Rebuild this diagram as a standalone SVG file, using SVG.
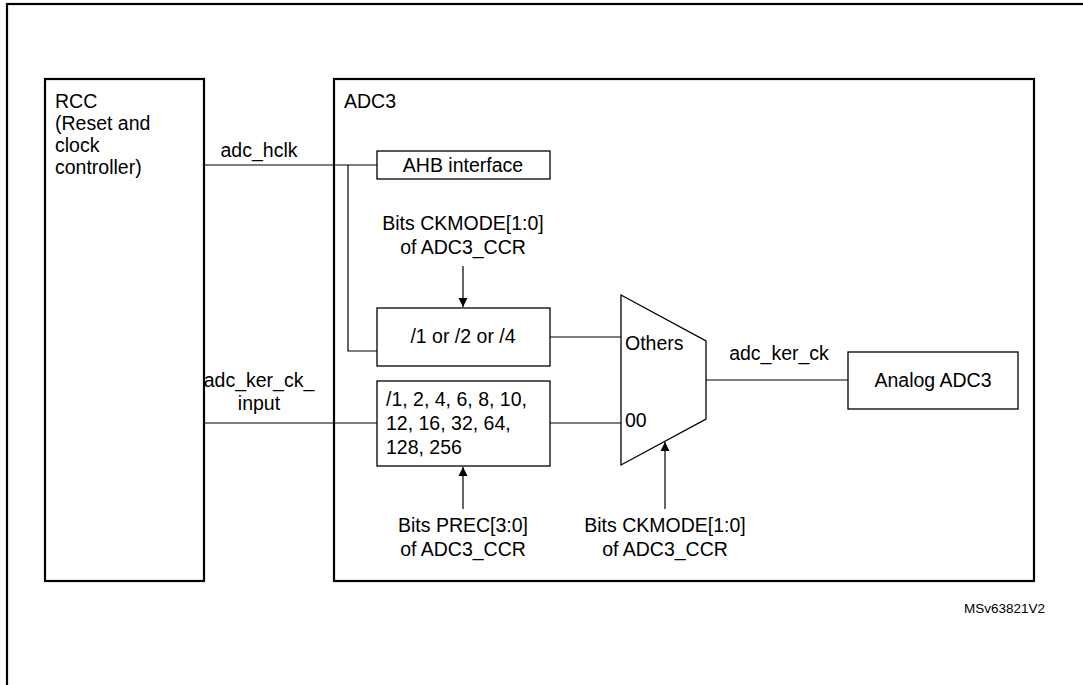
<svg xmlns="http://www.w3.org/2000/svg" width="1083" height="685" viewBox="0 0 1083 685">
<style>
text{font-family:"Liberation Sans",Arial,sans-serif;font-size:19.5px;fill:#000}
.b{fill:#fff;stroke:#000;stroke-width:1.3}
.t{fill:none;stroke:#000;stroke-width:2.2}
.l{fill:none;stroke:#000;stroke-width:1.2}
.m{text-anchor:middle}
</style>
<defs><marker id="a" viewBox="0 0 10 10" refX="10" refY="5" markerWidth="9" markerHeight="11" orient="auto" markerUnits="userSpaceOnUse"><path d="M0,0L10,5L0,10z" fill="#000"/></marker></defs>
<rect width="1083" height="685" fill="#fff"/>
<rect x="7" y="4" width="1090" height="700" class="t" stroke-width="1.5"/>
<g id="rcc"><rect x="45" y="79" width="159" height="502" class="t"/>
<text x="55" y="108">RCC</text><text x="55" y="130">(Reset and</text><text x="55" y="152">clock</text><text x="55" y="174">controller)</text></g>
<g id="adc3"><rect x="334" y="79" width="700" height="502" class="t"/><text x="344" y="108">ADC3</text></g>
<g id="ahb"><rect x="377" y="151" width="173" height="28" class="b"/><text x="463" y="172" class="m">AHB interface</text></g>
<g id="div1"><rect x="377" y="308" width="173" height="58" class="b"/><text x="463" y="343" class="m">/1 or /2 or /4</text></g>
<g id="div2"><rect x="377" y="381" width="173" height="85" class="b"/><text x="386" y="406">/1, 2, 4, 6, 8, 10,</text><text x="386" y="430">12, 16, 32, 64,</text><text x="386" y="454">128, 256</text></g>
<g id="mux"><path d="M621,295L706,341L706,419L621,465Z" class="b"/><text x="625" y="350">Others</text><text x="625" y="427">00</text></g>
<g id="analog"><rect x="848" y="352" width="170" height="57" class="b"/><text x="933" y="387" class="m">Analog ADC3</text></g>
<g id="labels">
<text x="259" y="157" class="m">adc_hclk</text>
<text x="259" y="387" class="m">adc_ker_ck_</text><text x="259" y="410" class="m">input</text>
<text x="463" y="230" class="m">Bits CKMODE[1:0]</text><text x="463" y="254" class="m">of ADC3_CCR</text>
<text x="463" y="532" class="m">Bits PREC[3:0]</text><text x="463" y="556" class="m">of ADC3_CCR</text>
<text x="665" y="532" class="m">Bits CKMODE[1:0]</text><text x="665" y="556" class="m">of ADC3_CCR</text>
<text x="779" y="360" class="m">adc_ker_ck</text>
<text x="1045" y="613" style="font-size:13.5px" text-anchor="end">MSv63821V2</text></g>
<g id="connectors">
<path d="M204,165H377M348,165V351H377" class="l"/>
<path d="M550,337H621M204,423H377M550,423H621M706,380H848" class="l"/>
<path d="M463,266V307" class="l" marker-end="url(#a)"/>
<path d="M463,509V467" class="l" marker-end="url(#a)"/>
<path d="M665,509V442" class="l" marker-end="url(#a)"/>
</g>
</svg>
